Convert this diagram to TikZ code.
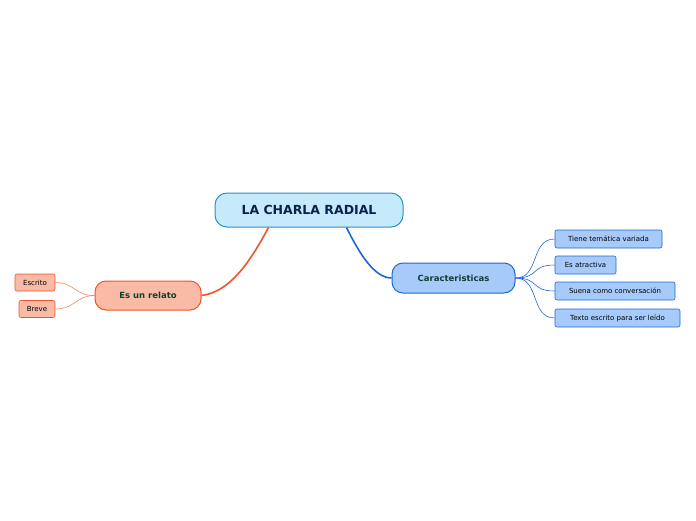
\documentclass[tikz,border=0pt]{standalone}
\usepackage{fontspec}
\setmainfont{DejaVu Sans}
\begin{document}
\begin{tikzpicture}[x=1pt,y=-1pt,
 root/.style={draw=rootb,fill=rootf,line width=1pt,rounded corners=12pt,minimum width=188pt,minimum height=34pt,font=\fontsize{12.5}{14}\selectfont\bfseries,text=roott},
 mainb/.style={draw=blueb,fill=bluef,line width=1pt,rounded corners=11pt,minimum width=123pt,minimum height=30pt,font=\fontsize{8.5}{10}\selectfont\bfseries,text=greent},
 maino/.style={draw=orb,fill=orf,line width=1pt,rounded corners=11pt,minimum width=106pt,minimum height=29pt,font=\fontsize{8.5}{10}\selectfont\bfseries,text=greent},
 leafb/.style={draw=blueb,fill=bluef,line width=0.6pt,rounded corners=2pt,minimum height=18pt,inner xsep=0pt,font=\fontsize{7}{8}\selectfont},
 leafo/.style={draw=orb,fill=orf,line width=0.6pt,rounded corners=2pt,minimum height=17pt,inner xsep=0pt,font=\fontsize{7}{8}\selectfont},
 lb/.style={draw=blueb,line width=0.6pt},
 lo/.style={draw=orb!70,line width=0.6pt}]
\definecolor{rootb}{HTML}{2E8FD0}\definecolor{rootf}{HTML}{C6EAFC}\definecolor{roott}{HTML}{0A2050}
\definecolor{blueb}{HTML}{1E66D6}\definecolor{bluef}{HTML}{A6CBFB}\definecolor{greent}{HTML}{0F4030}
\definecolor{orb}{HTML}{F0542A}\definecolor{orf}{HTML}{F9BBA6}
\useasboundingbox (0,0) rectangle (696,520);
\node[root] (r) at (309,210) {LA CHARLA RADIAL};
\node[mainb] (c) at (453.5,278) {Caracteristicas};
\node[maino] (e) at (148,295.5) {Es un relato};
\node[leafb,minimum width=107pt] (l1) at (608.5,239) {Tiene temática variada};
\node[leafb,minimum width=61pt] (l2) at (585.5,265) {Es atractiva};
\node[leafb,minimum width=120pt] (l3) at (615,291) {Suena como conversación};
\node[leafb,minimum width=125pt] (l4) at (617.5,318) {Texto escrito para ser leído};
\node[leafo,minimum width=40pt] (o1) at (35,282.5) {Escrito};
\node[leafo,minimum width=36pt] (o2) at (37,309) {Breve};
\coordinate (cr) at (c.east);
\coordinate (el) at (e.west);
\draw[draw=orb,line width=1.6pt] (r.south west)++(54,0) coordinate (a1) (a1) .. controls (250,262) and (230,292) .. (e.east);
\draw[draw=blueb,line width=1.6pt] (r.south west)++(132,0) coordinate (a2) (a2) .. controls (360,255) and (375,278) .. (c.west);
\foreach \n in {l1,l2,l3,l4}{
 \draw[lb] (cr) .. controls (540,278) and (530,0|-\n.west) .. (\n.west);}
\foreach \n in {o1,o2}{
 \draw[lo] (el) .. controls (75,296) and (75,0|-\n.east) .. (\n.east);}
\end{tikzpicture}
\end{document}
